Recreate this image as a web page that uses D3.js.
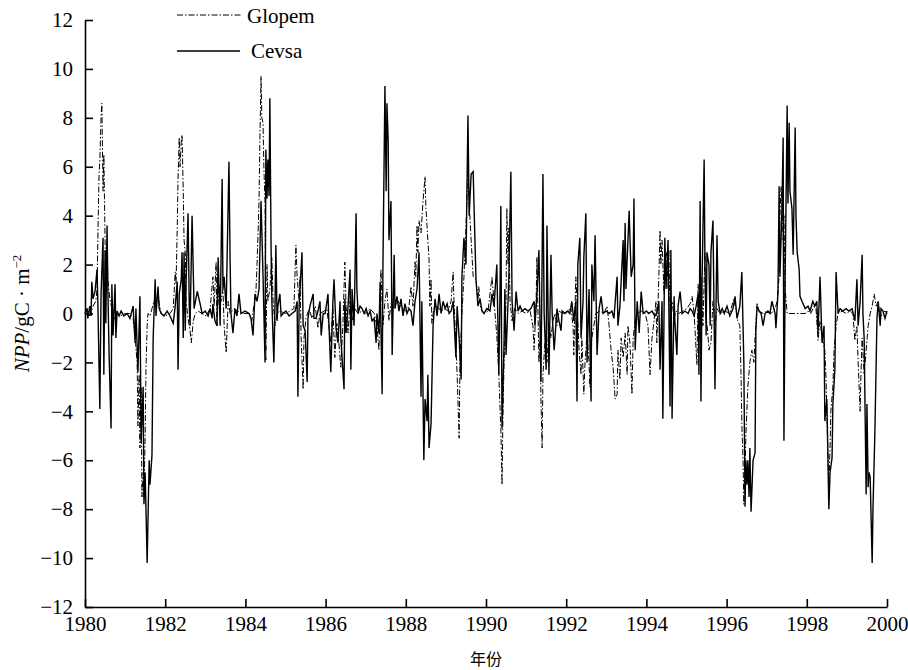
<!DOCTYPE html>
<html>
<head>
<meta charset="utf-8">
<script src="https://cdn.jsdelivr.net/npm/d3@7"></script>
<style>
  body { margin: 0; background: #fff; }
  text { font-family: "Liberation Serif", "Times New Roman", serif; fill: #000; }
</style>
</head>
<body>
<div id="chart"></div>
<script>
// NPP anomaly series, [decimal year, gC·m-2]
var glopemNPP = [
  [1980.00,0.0],[1980.07,0.2],[1980.12,-0.1],[1980.20,0.3],[1980.27,0.5],[1980.30,1.0],[1980.32,3.0],[1980.35,5.7],[1980.37,6.2],[1980.40,8.0],[1980.42,8.6],[1980.45,5.0],[1980.47,6.5],[1980.50,3.0],[1980.52,2.0],[1980.55,2.8],[1980.57,1.4],[1980.62,0.6],[1980.67,0.2],[1980.72,-0.3],[1980.77,0.0],[1980.87,-0.1],
  [1981.00,0.0],[1981.12,0.0],[1981.20,-0.2],[1981.25,-1.0],[1981.30,-2.0],[1981.32,-4.6],[1981.35,-2.5],[1981.37,-5.5],[1981.40,-3.0],[1981.42,-7.5],[1981.45,-6.5],[1981.47,-7.5],[1981.50,-5.0],[1981.52,-2.3],[1981.55,-0.5],[1981.57,0.0],[1981.62,-0.1],[1981.67,0.2],[1981.72,0.5],[1981.77,0.3],[1981.82,0.8],[1981.85,0.4],[1981.90,0.0],
  [1982.00,-0.1],[1982.12,0.0],[1982.20,0.2],[1982.25,1.7],[1982.27,1.2],[1982.30,3.5],[1982.32,5.5],[1982.35,7.2],[1982.37,6.0],[1982.40,7.0],[1982.42,7.3],[1982.45,5.0],[1982.47,3.0],[1982.50,2.5],[1982.52,0.5],[1982.57,-0.2],[1982.62,-0.7],[1982.65,-1.2],[1982.70,-0.3],[1982.75,0.0],[1982.82,0.1],[1982.92,0.0],
  [1983.02,-0.1],[1983.12,0.2],[1983.19,1.5],[1983.22,0.3],[1983.27,2.1],[1983.29,-0.5],[1983.34,1.2],[1983.39,0.5],[1983.44,1.0],[1983.47,-0.5],[1983.52,-1.6],[1983.57,0.5],[1983.62,0.0],[1983.72,0.2],[1983.81,0.1],[1983.91,0.0],
  [1984.01,0.0],[1984.11,0.0],[1984.16,-0.3],[1984.21,0.3],[1984.26,0.8],[1984.29,2.0],[1984.31,3.0],[1984.34,4.6],[1984.36,7.0],[1984.39,9.7],[1984.41,8.0],[1984.44,7.8],[1984.46,6.0],[1984.49,4.5],[1984.51,-1.9],[1984.54,2.0],[1984.56,0.5],[1984.61,1.0],[1984.66,2.3],[1984.69,0.5],[1984.74,-0.5],[1984.79,0.0],[1984.86,0.1],
  [1985.00,0.0],[1985.11,0.1],[1985.21,0.2],[1985.26,2.8],[1985.29,1.5],[1985.34,0.5],[1985.36,1.5],[1985.39,-1.0],[1985.44,-3.1],[1985.46,-1.0],[1985.51,-0.2],[1985.59,0.2],[1985.66,-0.2],[1985.74,0.3],[1985.81,-0.6],[1985.86,0.0],[1985.96,0.1],
  [1986.03,0.2],[1986.08,-0.5],[1986.13,-1.2],[1986.18,0.3],[1986.23,-1.8],[1986.28,-0.4],[1986.33,-1.2],[1986.38,-2.2],[1986.43,-0.5],[1986.48,2.1],[1986.51,0.3],[1986.56,-0.8],[1986.61,0.5],[1986.66,-0.3],[1986.73,0.2],[1986.81,0.0],[1986.91,0.1],
  [1987.01,0.0],[1987.11,0.2],[1987.21,0.0],[1987.28,-0.5],[1987.33,-1.5],[1987.38,1.8],[1987.43,-0.5],[1987.48,0.5],[1987.53,1.0],[1987.58,-0.3],[1987.63,0.4],[1987.71,0.2],[1987.81,0.5],[1987.91,0.2],
  [1988.00,0.1],[1988.08,0.3],[1988.13,1.1],[1988.18,0.3],[1988.23,2.1],[1988.25,1.5],[1988.28,3.6],[1988.30,2.5],[1988.33,3.8],[1988.38,3.3],[1988.43,4.6],[1988.48,5.6],[1988.50,4.4],[1988.55,3.0],[1988.58,2.2],[1988.60,0.3],[1988.63,1.4],[1988.65,-0.4],[1988.70,0.2],[1988.78,0.3],[1988.88,0.1],[1988.98,0.2],
  [1989.05,0.1],[1989.13,0.5],[1989.18,1.7],[1989.20,0.6],[1989.25,-1.3],[1989.28,-2.5],[1989.33,-5.1],[1989.35,-2.0],[1989.40,0.0],[1989.45,1.5],[1989.50,3.5],[1989.55,6.0],[1989.58,4.5],[1989.63,3.0],[1989.68,1.5],[1989.75,1.4],[1989.80,0.5],[1989.82,1.1],[1989.87,0.2],[1989.95,0.0],
  [1990.05,0.1],[1990.15,1.5],[1990.20,0.5],[1990.27,-0.9],[1990.32,-2.5],[1990.37,-4.7],[1990.40,-7.0],[1990.42,-4.5],[1990.45,-2.0],[1990.50,0.5],[1990.52,4.3],[1990.55,2.0],[1990.57,3.5],[1990.60,0.5],[1990.65,-0.3],[1990.72,0.2],[1990.80,0.0],[1990.90,0.1],
  [1991.00,0.0],[1991.10,0.1],[1991.17,-0.5],[1991.20,-1.5],[1991.25,0.5],[1991.27,2.3],[1991.32,-2.0],[1991.35,-1.0],[1991.37,-3.5],[1991.40,-5.5],[1991.42,-2.5],[1991.47,-1.2],[1991.52,-2.0],[1991.57,-0.5],[1991.62,-1.0],[1991.67,-0.3],[1991.72,0.0],[1991.77,-0.5],[1991.82,0.1],[1991.92,0.0],
  [1992.02,0.1],[1992.12,0.2],[1992.17,-0.5],[1992.19,-1.7],[1992.24,1.5],[1992.27,0.5],[1992.32,-1.5],[1992.37,-2.5],[1992.39,-1.0],[1992.44,-3.3],[1992.47,-2.0],[1992.52,-0.8],[1992.57,-2.0],[1992.59,-3.0],[1992.64,-1.0],[1992.69,-0.5],[1992.74,0.0],[1992.84,0.1],[1992.94,0.0],
  [1993.02,0.3],[1993.07,-0.5],[1993.12,-1.5],[1993.17,-2.2],[1993.22,-3.5],[1993.27,-3.3],[1993.29,-1.5],[1993.34,-2.7],[1993.37,-1.0],[1993.42,-1.8],[1993.47,-0.8],[1993.52,-2.5],[1993.54,-0.5],[1993.59,-1.2],[1993.64,-3.3],[1993.67,-1.0],[1993.72,-0.3],[1993.77,0.0],[1993.87,0.1],[1993.97,0.0],
  [1994.04,-0.5],[1994.09,-2.5],[1994.14,-1.0],[1994.19,-0.3],[1994.24,0.5],[1994.26,-1.2],[1994.31,1.5],[1994.34,3.4],[1994.36,2.0],[1994.39,3.0],[1994.44,0.8],[1994.46,2.0],[1994.51,2.5],[1994.54,1.0],[1994.56,2.6],[1994.59,0.0],[1994.64,0.5],[1994.69,-0.2],[1994.74,0.1],[1994.81,0.0],[1994.91,0.1],
  [1995.01,0.2],[1995.09,0.4],[1995.14,0.7],[1995.19,0.0],[1995.24,-1.5],[1995.26,-2.1],[1995.29,1.2],[1995.34,-1.0],[1995.36,1.5],[1995.41,-0.5],[1995.46,2.5],[1995.49,0.0],[1995.54,-1.0],[1995.56,-1.5],[1995.61,-1.2],[1995.66,0.5],[1995.71,-0.5],[1995.76,0.2],[1995.84,0.0],[1995.96,0.1],
  [1996.08,0.0],[1996.18,0.6],[1996.23,0.2],[1996.28,-0.3],[1996.33,-0.5],[1996.36,-2.5],[1996.38,-4.5],[1996.41,-6.0],[1996.43,-7.8],[1996.46,-6.5],[1996.48,-5.0],[1996.53,-3.0],[1996.58,-2.0],[1996.63,-1.5],[1996.68,-2.0],[1996.71,-1.0],[1996.76,0.4],[1996.81,0.1],[1996.91,0.0],
  [1997.01,0.1],[1997.11,0.0],[1997.21,0.2],[1997.26,0.5],[1997.31,1.5],[1997.33,4.0],[1997.36,5.2],[1997.38,4.5],[1997.41,3.0],[1997.43,4.0],[1997.46,1.0],[1997.51,0.0],[1997.58,0.0],[1997.71,0.0],[1997.83,0.0],[1997.96,0.0],
  [1998.03,0.1],[1998.10,0.0],[1998.18,0.3],[1998.23,0.2],[1998.28,-1.1],[1998.33,-0.3],[1998.38,-1.0],[1998.45,-1.5],[1998.48,-2.7],[1998.50,-4.0],[1998.53,-6.0],[1998.55,-7.0],[1998.58,-5.5],[1998.60,-4.0],[1998.65,-3.0],[1998.68,-1.5],[1998.73,-0.5],[1998.78,0.0],[1998.88,0.1],[1998.98,0.0],
  [1999.08,0.1],[1999.15,0.0],[1999.20,-1.1],[1999.25,-0.5],[1999.28,-2.0],[1999.33,-4.0],[1999.35,-2.5],[1999.38,-1.0],[1999.43,-2.5],[1999.48,-1.5],[1999.53,-0.5],[1999.58,0.0],[1999.63,0.3],[1999.68,0.8],[1999.73,0.3],[1999.78,0.5],[1999.83,-0.3],[1999.88,0.0],[1999.95,0.1],[2000.00,0.0]
];

var cevsaNPP = [
  [1980.00,0.0],[1980.05,0.2],[1980.07,-0.2],[1980.12,0.3],[1980.15,-0.1],[1980.17,1.3],[1980.20,0.6],[1980.25,0.9],[1980.30,1.8],[1980.32,0.5],[1980.37,-3.9],[1980.40,0.8],[1980.45,3.1],[1980.47,-2.5],[1980.50,2.6],[1980.52,-0.4],[1980.55,3.6],[1980.57,1.0],[1980.60,-1.6],[1980.65,-4.7],[1980.67,1.2],[1980.70,-0.9],[1980.75,1.2],[1980.77,-1.0],[1980.80,0.1],[1980.85,-0.1],[1980.90,0.1],[1980.97,-0.1],
  [1981.05,0.0],[1981.12,-0.2],[1981.17,0.1],[1981.20,0.3],[1981.25,-1.2],[1981.27,0.2],[1981.32,-2.4],[1981.37,0.7],[1981.40,-5.3],[1981.45,-3.0],[1981.47,-7.8],[1981.50,-6.5],[1981.55,-10.2],[1981.60,-6.0],[1981.62,-7.0],[1981.67,-5.8],[1981.70,-1.0],[1981.75,1.4],[1981.77,-0.1],[1981.82,1.1],[1981.85,0.2],[1981.90,0.0],[1981.97,-0.1],
  [1982.05,0.1],[1982.12,-0.1],[1982.20,-0.4],[1982.25,0.3],[1982.30,1.3],[1982.32,-2.3],[1982.35,0.8],[1982.40,1.4],[1982.42,2.5],[1982.45,-1.0],[1982.47,2.5],[1982.50,-0.7],[1982.52,1.2],[1982.57,4.1],[1982.60,0.3],[1982.62,-0.5],[1982.67,4.0],[1982.70,1.7],[1982.72,0.2],[1982.80,0.9],[1982.87,0.4],[1982.92,0.0],
  [1983.00,0.1],[1983.07,-0.1],[1983.12,0.2],[1983.17,-0.2],[1983.19,0.4],[1983.24,-0.3],[1983.29,-0.5],[1983.32,2.3],[1983.37,-0.5],[1983.42,5.5],[1983.44,1.0],[1983.47,1.5],[1983.52,0.2],[1983.59,6.2],[1983.62,2.0],[1983.64,0.0],[1983.69,-0.8],[1983.74,0.2],[1983.79,-0.1],[1983.84,0.8],[1983.89,0.0],[1983.99,0.1],
  [1984.09,0.0],[1984.14,-0.2],[1984.19,-0.9],[1984.24,0.8],[1984.29,0.5],[1984.34,1.0],[1984.39,4.6],[1984.44,1.5],[1984.49,-2.0],[1984.51,6.7],[1984.54,4.7],[1984.56,6.3],[1984.59,4.8],[1984.61,8.8],[1984.64,2.7],[1984.66,0.5],[1984.71,-2.0],[1984.74,0.5],[1984.76,2.8],[1984.79,-0.3],[1984.81,0.3],[1984.86,0.8],[1984.89,-0.1],[1984.94,0.0],
  [1985.01,0.1],[1985.09,-0.1],[1985.16,0.0],[1985.24,0.1],[1985.29,0.5],[1985.31,-3.4],[1985.34,0.3],[1985.41,2.5],[1985.44,-0.5],[1985.49,-0.7],[1985.54,-2.8],[1985.56,-0.2],[1985.61,0.3],[1985.69,0.8],[1985.71,-0.2],[1985.76,-0.2],[1985.81,0.1],[1985.86,0.5],[1985.89,-0.9],[1985.94,0.0],[1985.99,0.0],
  [1986.06,0.8],[1986.08,-0.3],[1986.13,-2.4],[1986.18,0.4],[1986.21,1.4],[1986.26,-0.6],[1986.31,-1.2],[1986.36,0.5],[1986.38,-1.0],[1986.46,-3.1],[1986.48,0.6],[1986.51,-0.8],[1986.56,0.3],[1986.61,1.8],[1986.63,-2.3],[1986.66,1.0],[1986.71,-0.5],[1986.76,4.1],[1986.78,1.0],[1986.81,0.0],[1986.86,0.3],[1986.91,0.2],[1986.96,0.0],
  [1987.01,0.2],[1987.06,-0.1],[1987.11,0.1],[1987.16,-0.3],[1987.21,-0.2],[1987.26,-1.2],[1987.28,0.0],[1987.33,-0.8],[1987.36,1.3],[1987.41,-3.3],[1987.43,2.0],[1987.48,9.3],[1987.51,5.0],[1987.53,8.6],[1987.56,7.1],[1987.58,3.0],[1987.63,4.6],[1987.66,-1.7],[1987.71,2.4],[1987.73,0.2],[1987.78,0.7],[1987.83,0.1],[1987.88,0.6],[1987.93,-0.1],[1987.98,0.4],
  [1988.03,0.0],[1988.08,0.2],[1988.13,0.1],[1988.18,-0.5],[1988.23,0.5],[1988.28,1.0],[1988.33,2.5],[1988.38,-3.4],[1988.40,0.5],[1988.45,-6.0],[1988.48,-3.5],[1988.53,-4.4],[1988.55,-2.5],[1988.58,-5.5],[1988.63,-4.5],[1988.68,-0.5],[1988.73,0.6],[1988.78,-0.1],[1988.83,0.8],[1988.88,0.0],[1988.93,0.5],[1988.98,0.2],
  [1989.03,0.4],[1989.08,0.0],[1989.13,0.1],[1989.18,0.5],[1989.25,-1.8],[1989.28,0.3],[1989.33,-1.0],[1989.38,-2.7],[1989.40,1.5],[1989.45,3.1],[1989.50,2.0],[1989.55,8.1],[1989.58,4.0],[1989.63,5.7],[1989.68,5.8],[1989.70,4.5],[1989.75,1.4],[1989.80,0.3],[1989.85,0.6],[1989.90,0.1],[1989.95,0.0],
  [1990.02,0.2],[1990.10,0.1],[1990.15,0.8],[1990.20,0.3],[1990.27,2.0],[1990.32,-2.5],[1990.35,1.0],[1990.37,4.4],[1990.40,-4.7],[1990.45,-1.2],[1990.47,1.0],[1990.50,-1.7],[1990.55,0.5],[1990.57,1.5],[1990.62,5.8],[1990.65,0.5],[1990.70,-0.7],[1990.75,0.9],[1990.80,0.1],[1990.85,0.3],[1990.90,0.1],[1990.97,0.2],
  [1991.05,0.1],[1991.12,0.2],[1991.20,0.5],[1991.22,-0.5],[1991.27,0.8],[1991.32,2.6],[1991.37,-2.8],[1991.42,5.7],[1991.45,0.0],[1991.50,-2.3],[1991.52,3.6],[1991.57,-2.5],[1991.62,2.4],[1991.65,0.0],[1991.70,-1.5],[1991.77,0.2],[1991.82,-0.3],[1991.87,-0.7],[1991.90,0.1],[1991.97,0.0],
  [1992.04,0.1],[1992.09,0.0],[1992.14,0.5],[1992.19,-0.3],[1992.24,0.5],[1992.27,-3.6],[1992.29,2.0],[1992.34,3.1],[1992.37,-1.0],[1992.42,0.5],[1992.44,2.3],[1992.49,4.1],[1992.52,-2.0],[1992.57,1.0],[1992.59,-1.0],[1992.62,-3.6],[1992.64,2.0],[1992.69,0.5],[1992.72,3.2],[1992.77,-1.7],[1992.82,0.2],[1992.87,0.7],[1992.92,0.0],
  [1993.00,0.1],[1993.07,0.0],[1993.14,0.1],[1993.19,-0.2],[1993.27,1.5],[1993.29,-0.5],[1993.34,0.3],[1993.42,3.0],[1993.44,0.5],[1993.47,3.7],[1993.49,1.0],[1993.57,4.2],[1993.62,1.5],[1993.67,2.0],[1993.69,4.7],[1993.72,-1.5],[1993.77,0.5],[1993.82,-0.8],[1993.87,0.9],[1993.92,0.0],
  [1994.00,0.1],[1994.06,0.0],[1994.14,0.1],[1994.21,-0.1],[1994.26,0.0],[1994.31,0.5],[1994.34,-2.3],[1994.39,0.5],[1994.41,-4.3],[1994.44,0.0],[1994.46,3.1],[1994.49,1.0],[1994.54,3.0],[1994.59,-3.8],[1994.61,2.6],[1994.64,-4.3],[1994.69,0.7],[1994.71,-0.3],[1994.76,-1.7],[1994.79,0.3],[1994.84,0.9],[1994.89,0.0],[1994.96,0.1],
  [1995.04,0.0],[1995.09,0.2],[1995.14,0.1],[1995.19,-0.1],[1995.24,0.3],[1995.29,0.8],[1995.31,-2.5],[1995.34,4.6],[1995.36,-3.6],[1995.39,1.5],[1995.44,6.3],[1995.46,2.0],[1995.49,-0.9],[1995.51,2.5],[1995.56,2.0],[1995.59,-0.5],[1995.61,2.5],[1995.66,3.8],[1995.71,-3.1],[1995.76,3.2],[1995.79,0.5],[1995.84,0.0],[1995.89,0.2],[1995.94,0.0],
  [1996.01,0.3],[1996.08,-0.1],[1996.16,0.2],[1996.21,0.7],[1996.26,-0.2],[1996.33,0.3],[1996.38,1.7],[1996.43,-2.0],[1996.46,-7.9],[1996.48,-6.0],[1996.51,-7.0],[1996.53,-6.0],[1996.56,-7.5],[1996.58,-5.5],[1996.61,-8.1],[1996.66,-6.0],[1996.71,-5.7],[1996.73,-0.7],[1996.76,0.3],[1996.81,0.1],[1996.86,0.0],[1996.91,-0.5],[1996.96,0.0],
  [1997.03,0.1],[1997.08,0.0],[1997.13,0.5],[1997.21,0.0],[1997.23,-0.6],[1997.28,0.8],[1997.31,5.2],[1997.33,1.5],[1997.38,4.3],[1997.41,7.2],[1997.43,-5.2],[1997.46,1.5],[1997.51,8.5],[1997.53,4.5],[1997.56,7.8],[1997.58,5.0],[1997.63,4.3],[1997.66,2.4],[1997.71,7.6],[1997.73,4.0],[1997.76,2.5],[1997.81,1.8],[1997.83,0.7],[1997.88,0.5],[1997.96,0.2],
  [1998.03,0.3],[1998.08,0.1],[1998.15,0.5],[1998.20,0.3],[1998.25,0.5],[1998.28,-0.8],[1998.33,1.5],[1998.38,-1.2],[1998.43,-0.5],[1998.45,-4.4],[1998.50,-3.5],[1998.55,-8.0],[1998.58,-6.5],[1998.63,-5.9],[1998.65,-3.7],[1998.70,-2.3],[1998.73,1.7],[1998.78,0.0],[1998.83,0.2],[1998.90,0.1],[1998.98,0.2],
  [1999.05,0.1],[1999.13,0.2],[1999.20,-0.3],[1999.25,1.4],[1999.28,-0.5],[1999.33,0.5],[1999.38,2.4],[1999.40,0.0],[1999.43,-1.0],[1999.48,-7.4],[1999.50,-3.7],[1999.53,-7.1],[1999.55,-6.5],[1999.58,-6.7],[1999.63,-10.2],[1999.65,-8.0],[1999.70,-4.7],[1999.75,-0.2],[1999.78,0.5],[1999.83,-0.5],[1999.85,0.2],[1999.90,0.1],[1999.95,-0.2],[2000.00,0.1]
];

var seriesNames = ["Glopem", "Cevsa"];
var yearTicks = [1980, 1982, 1984, 1986, 1988, 1990, 1992, 1994, 1996, 1998, 2000];
var nppTicks = [-12, -10, -8, -6, -4, -2, 0, 2, 4, 6, 8, 10, 12];

var svgWidth = 908;
var svgHeight = 670;

var margin = {
    top: 20,
    right: 21,
    bottom: 63,
    left: 85
};

var chartWidth = svgWidth - margin.left - margin.right;
var chartHeight = svgHeight - margin.top - margin.bottom;

var svg = d3.select("#chart")
    .append("svg")
    .attr("width", svgWidth)
    .attr("height", svgHeight)
    .style("background", "#fff");

var chartGroup = svg.append("g")
    .attr("transform", `translate(${margin.left}, ${margin.top})`);

// scales
var xScale = d3.scaleLinear()
    .domain([1980, 2000])
    .range([0, chartWidth]);

var yScale = d3.scaleLinear()
    .domain([-12, 12])
    .range([chartHeight, 0]);

// axes, ticks pointing inward
var bottomAxis = d3.axisBottom(xScale)
    .tickValues(yearTicks)
    .tickFormat(d3.format("d"))
    .tickSizeInner(-8)
    .tickSizeOuter(0)
    .tickPadding(9);

var leftAxis = d3.axisLeft(yScale)
    .tickValues(nppTicks)
    .tickFormat(d => d < 0 ? "\u2212" + Math.abs(d) : d)
    .tickSizeInner(-8)
    .tickSizeOuter(0)
    .tickPadding(12);

var xAxisG = chartGroup.append("g")
    .attr("transform", `translate(0, ${chartHeight})`)
    .call(bottomAxis);

var yAxisG = chartGroup.append("g")
    .call(leftAxis);

[xAxisG, yAxisG].forEach(function (g) {
    g.selectAll("path, line")
        .attr("stroke", "#000")
        .attr("stroke-width", 1.6);
    g.selectAll("text")
        .attr("fill", "#000")
        .style("font-family", "'Liberation Serif', serif")
        .style("font-size", "21px");
});

// series lines
var line = d3.line()
    .x(d => xScale(d[0]))
    .y(d => yScale(d[1]));

chartGroup.append("path")
    .datum(glopemNPP)
    .attr("fill", "none")
    .attr("stroke", "#000")
    .attr("stroke-width", 1)
    .attr("stroke-dasharray", "6,2,1.5,2")
    .attr("d", line);

chartGroup.append("path")
    .datum(cevsaNPP)
    .attr("fill", "none")
    .attr("stroke", "#000")
    .attr("stroke-width", 1.4)
    .attr("d", line);

// legend
var legend = svg.append("g").attr("transform", "translate(177, 15)");

legend.append("line")
    .attr("x1", 0).attr("x2", 65)
    .attr("y1", 0).attr("y2", 0)
    .attr("stroke", "#000")
    .attr("stroke-width", 1)
    .attr("stroke-dasharray", "6,2,1.5,2");

legend.append("text")
    .attr("x", 70)
    .attr("y", 8)
    .style("font-size", "21px")
    .text(seriesNames[0]);

legend.append("line")
    .attr("x1", 0).attr("x2", 63)
    .attr("y1", 36).attr("y2", 36)
    .attr("stroke", "#000")
    .attr("stroke-width", 1.4);

legend.append("text")
    .attr("x", 74)
    .attr("y", 43)
    .style("font-size", "21px")
    .text(seriesNames[1]);

// axis titles
var yTitle = svg.append("text")
    .attr("transform", `translate(29, ${margin.top + chartHeight / 2}) rotate(-90)`)
    .attr("text-anchor", "middle")
    .style("font-size", "21px");
yTitle.append("tspan").style("font-style", "italic").text("NPP");
yTitle.append("tspan").text("/gC \u00b7 m");
yTitle.append("tspan").attr("dy", -8).style("font-size", "13px").text("\u22122");

svg.append("text")
    .attr("x", margin.left + chartWidth / 2)
    .attr("y", 665)
    .attr("text-anchor", "middle")
    .style("font-family", "'Noto Sans CJK SC', sans-serif")
    .style("font-size", "16px")
    .text("年份");
</script>
</body>
</html>
